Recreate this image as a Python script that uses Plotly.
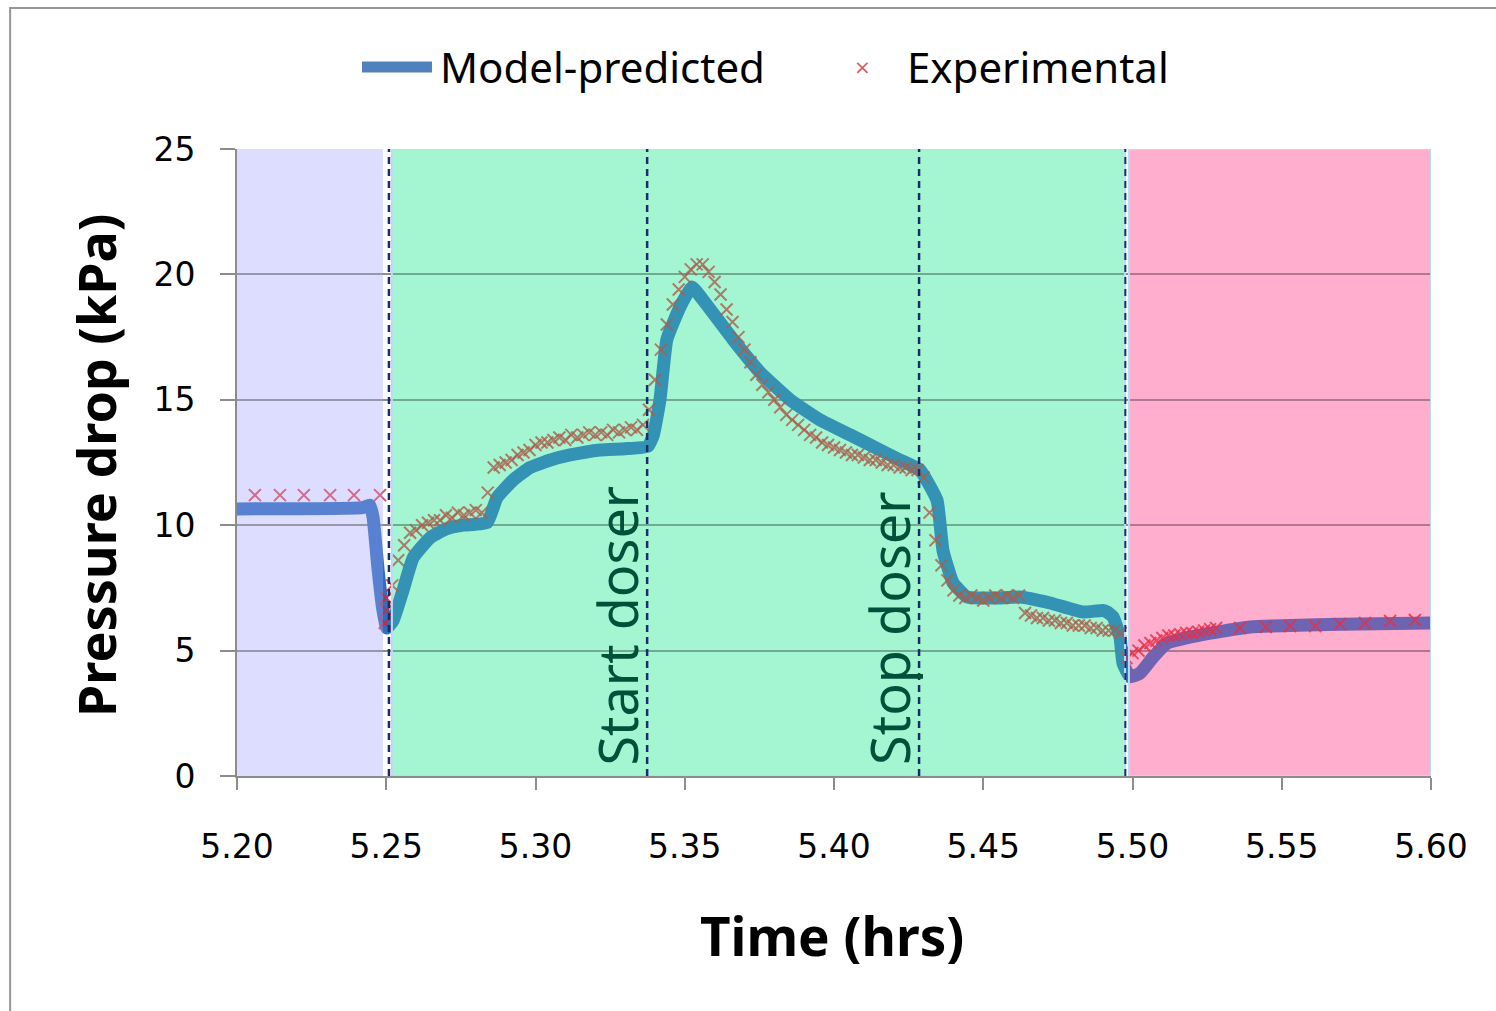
import plotly.graph_objects as go

# ---------------- data ----------------
model_t = [5.2000, 5.2420, 5.2445, 5.2456, 5.2472, 5.2489, 5.2502, 5.2523, 5.2556, 5.2590,
           5.2647, 5.2700, 5.2757, 5.2838, 5.2871, 5.2925, 5.2982, 5.3050, 5.3116, 5.3216,
           5.3300, 5.3377, 5.3395, 5.3417, 5.3440, 5.3484, 5.3524, 5.3560, 5.3662, 5.3752,
           5.3853, 5.3953, 5.4054, 5.4154, 5.4221, 5.4288, 5.4345, 5.4365, 5.4399, 5.4446,
           5.4556, 5.4623, 5.4724, 5.4834, 5.4900, 5.4915, 5.4935, 5.4958, 5.4968, 5.4992,
           5.5025, 5.5069, 5.5116, 5.5226, 5.5394, 5.5700, 5.6000]
model_v = [10.65, 10.70, 10.80, 10.30, 8.30, 6.60, 5.90, 6.20, 7.40, 8.70,
           9.50, 9.85, 10.00, 10.10, 11.10, 11.80, 12.30, 12.60, 12.80, 13.00,
           13.05, 13.15, 13.60, 15.00, 17.40, 18.70, 19.50, 19.00, 17.40, 16.10,
           15.00, 14.20, 13.60, 13.00, 12.60, 12.20, 11.00, 9.00, 7.70, 7.14,
           7.10, 7.14, 6.90, 6.54, 6.60, 6.54, 6.34, 5.54, 4.50, 3.95,
           4.10, 4.74, 5.30, 5.62, 5.94, 6.05, 6.10]

exp_t = [5.2060, 5.2144, 5.2224, 5.2312, 5.2392, 5.2479, 5.2495, 5.2500,
         5.250, 5.252, 5.254, 5.256, 5.258, 5.260, 5.262, 5.264, 5.266, 5.268,
         5.270, 5.272, 5.274, 5.276, 5.278, 5.280, 5.282, 5.284, 5.286, 5.288,
         5.290, 5.292, 5.294, 5.296, 5.298, 5.300, 5.302, 5.304, 5.306, 5.308,
         5.310, 5.312, 5.314, 5.316, 5.318, 5.320, 5.322, 5.324, 5.326, 5.328,
         5.330, 5.332, 5.334, 5.336, 5.338, 5.340, 5.342, 5.344, 5.346, 5.348,
         5.350, 5.352, 5.354, 5.356, 5.358, 5.360, 5.362, 5.364, 5.366, 5.368,
         5.370, 5.372, 5.374, 5.376, 5.378, 5.380, 5.382, 5.384, 5.386, 5.388,
         5.390, 5.392, 5.394, 5.396, 5.398, 5.400, 5.402, 5.404, 5.406, 5.408,
         5.410, 5.412, 5.414, 5.416, 5.418, 5.420, 5.422, 5.424, 5.426, 5.428,
         5.430, 5.432, 5.434, 5.436, 5.438, 5.440, 5.442, 5.444, 5.446, 5.448,
         5.450, 5.452, 5.454, 5.456, 5.458, 5.460, 5.462, 5.464, 5.466, 5.468,
         5.470, 5.472, 5.474, 5.476, 5.478, 5.480, 5.482, 5.484, 5.486, 5.488,
         5.490, 5.492, 5.494, 5.496, 5.498, 5.500, 5.502, 5.504, 5.506, 5.508,
         5.510, 5.512, 5.514, 5.516, 5.518, 5.520, 5.522, 5.524, 5.526, 5.528,
         5.5360, 5.5447, 5.5528, 5.5612, 5.5695, 5.5779, 5.5863, 5.5946]
exp_v = [11.2, 11.2, 11.2, 11.2, 11.2, 11.2, 6.1, 6.6,
         7.1, 7.6, 8.6, 9.2, 9.7, 9.8, 10.0, 10.1, 10.2, 10.2,
         10.4, 10.3, 10.5, 10.4, 10.5, 10.6, 10.5, 11.3, 12.3, 12.4,
         12.5, 12.6, 12.8, 12.9, 13.0, 13.2, 13.3, 13.3, 13.4, 13.5,
         13.4, 13.6, 13.5, 13.6, 13.7, 13.6, 13.7, 13.6, 13.8, 13.7,
         13.8, 13.9, 13.8, 14.0, 14.6, 15.8, 17.0, 18.0, 18.8, 19.4,
         19.9, 20.2, 20.4, 20.4, 20.1, 19.7, 19.2, 18.6, 18.1, 17.5,
         17.0, 16.5, 16.0, 15.6, 15.3, 15.0, 14.7, 14.4, 14.2, 14.0,
         13.8, 13.6, 13.5, 13.3, 13.2, 13.1, 13.0, 12.9, 12.8, 12.8,
         12.7, 12.6, 12.6, 12.5, 12.4, 12.4, 12.3, 12.3, 12.2, 12.2,
         11.9, 10.5, 9.4, 8.4, 7.8, 7.4, 7.2, 7.1, 7.2, 7.1,
         7.0, 7.1, 7.2, 7.1, 7.2, 7.1, 7.2, 6.5, 6.4, 6.3,
         6.3, 6.2, 6.2, 6.1, 6.1, 6.0, 6.0, 6.0, 5.9, 5.9,
         5.8, 5.8, 5.8, 5.7, 4.7, 4.9, 5.0, 5.2, 5.3, 5.4,
         5.5, 5.6, 5.6, 5.65, 5.7, 5.7, 5.75, 5.8, 5.85, 5.9,
         5.90, 5.94, 5.98, 5.98, 6.06, 6.10, 6.18, 6.22]

x_ticks = [5.20, 5.25, 5.30, 5.35, 5.40, 5.45, 5.50, 5.55, 5.60]
x_tick_labels = ["5.20", "5.25", "5.30", "5.35", "5.40", "5.45", "5.50", "5.55", "5.60"]
y_ticks = [0, 5, 10, 15, 20, 25]

# region bounds (hours) and event markers
purple_span = (5.2000, 5.2489)
green_span = (5.2519, 5.4975)
pink_span = (5.4988, 5.6000)
event_lines = [5.2509, 5.3374, 5.4285, 5.4976]
event_labels = [("Start doser", 5.3270, 6.0), ("Stop doser", 5.4184, 5.9)]

series_names = ["Model-predicted", "Experimental"]

# ---------------- figure ----------------
fig = go.Figure()

fig.add_trace(go.Scatter(
    x=model_t, y=model_v, mode="lines", name=series_names[0],
    line=dict(color="rgb(50,110,190)", width=13, shape="spline", smoothing=0.4),
    showlegend=False))

fig.add_trace(go.Scatter(
    x=exp_t, y=exp_v, mode="markers", name=series_names[1],
    marker=dict(symbol="x-thin", size=12,
                line=dict(color="rgba(215,35,40,0.8)", width=2)),
    showlegend=False))

# (span, base colour below the grid, tint colour drawn over the data, border)
regions = [
    (purple_span, "rgb(240,240,255)", "rgba(180,180,255,0.3)", None),
    (green_span, "rgb(210,251,234)", "rgba(60,235,160,0.3)", "rgb(185,220,245)"),
    (pink_span, "rgb(255,216,229)", "rgba(255,80,150,0.3)", "rgb(185,220,245)"),
]

shapes = []
# outer chart frame
shapes.append(dict(type="rect", xref="paper", yref="paper",
                   x0=-0.190, x1=1.07, y0=-0.40, y1=1.2249,
                   line=dict(color="rgb(150,150,150)", width=2), layer="below"))
for span, base, tint, border in regions:
    shapes.append(dict(type="rect", xref="x", yref="y", x0=span[0], x1=span[1],
                       y0=0, y1=25, fillcolor=base, line=dict(width=0), layer="below"))
for span, base, tint, border in regions:
    shapes.append(dict(type="rect", xref="x", yref="y", x0=span[0], x1=span[1],
                       y0=0, y1=25, fillcolor=tint,
                       line=dict(color=border or "rgba(0,0,0,0)", width=2 if border else 0),
                       layer="above"))
# dashed event lines
for i, xv in enumerate(event_lines):
    shapes.append(dict(type="line", xref="x", yref="y", x0=xv, x1=xv, y0=0, y1=25,
                       line=dict(color="rgb(25,45,110)", width=2.5 if i < 3 else 2,
                                 dash="7px,5px"),
                       layer="above"))
# custom legend line sample
shapes.append(dict(type="line", xref="paper", yref="paper",
                   x0=0.1047, x1=0.1633, y0=1.1308, y1=1.1308,
                   line=dict(color="rgb(79,129,189)", width=11)))

annotations = []
for text, xv, yv in event_labels:
    annotations.append(dict(text=text, x=xv, y=yv, xref="x", yref="y",
                            textangle=-90, showarrow=False, xanchor="center", yanchor="middle",
                            font=dict(family="Noto Sans", size=54, color="rgb(0,80,58)")))
# legend texts
annotations.append(dict(text=series_names[0], x=0.1683, y=1.1308, xref="paper", yref="paper",
                        xanchor="left", yanchor="middle", showarrow=False,
                        font=dict(family="Noto Sans", size=42, color="black")))
annotations.append(dict(text="×", x=0.5235, y=1.1308, xref="paper", yref="paper",
                        xanchor="center", yanchor="middle", showarrow=False,
                        font=dict(family="DejaVu Sans", size=20, color="rgb(205,100,100)")))
annotations.append(dict(text=series_names[1], x=0.5595, y=1.1308, xref="paper", yref="paper",
                        xanchor="left", yanchor="middle", showarrow=False,
                        font=dict(family="Noto Sans", size=42, color="black")))
# axis titles
annotations.append(dict(text="<b>Time (hrs)</b>", x=0.498, y=-0.2536, xref="paper", yref="paper",
                        xanchor="center", yanchor="middle", showarrow=False,
                        font=dict(family="Noto Sans", size=53, color="black")))
annotations.append(dict(text="<b>Pressure drop (kPa)</b>", x=-0.119, y=0.496, xref="paper",
                        yref="paper", textangle=-90, xanchor="center", yanchor="middle",
                        showarrow=False,
                        font=dict(family="Noto Sans", size=52, color="black")))

fig.update_layout(
    width=1496, height=1011,
    margin=dict(l=237, r=65, t=149, b=235),
    paper_bgcolor="white", plot_bgcolor="white",
    showlegend=False,
    shapes=shapes, annotations=annotations,
    xaxis=dict(range=[5.2, 5.6], tickvals=x_ticks, ticktext=x_tick_labels,
               showgrid=False, zeroline=False,
               showline=True, linecolor="rgb(140,140,140)", linewidth=2,
               ticks="outside", ticklen=12, tickwidth=2, tickcolor="rgb(140,140,140)",
               ticklabelstandoff=28,
               tickfont=dict(family="DejaVu Sans", size=33, color="black")),
    yaxis=dict(range=[0, 25], tickvals=y_ticks,
               showgrid=True, gridcolor="rgb(140,140,140)", gridwidth=2,
               zeroline=False,
               showline=True, linecolor="rgb(140,140,140)", linewidth=2,
               ticks="outside", ticklen=15, tickwidth=2, tickcolor="rgb(140,140,140)",
               ticklabelstandoff=18,
               tickfont=dict(family="DejaVu Sans", size=33, color="black")),
)

fig.write_html("out.html")
